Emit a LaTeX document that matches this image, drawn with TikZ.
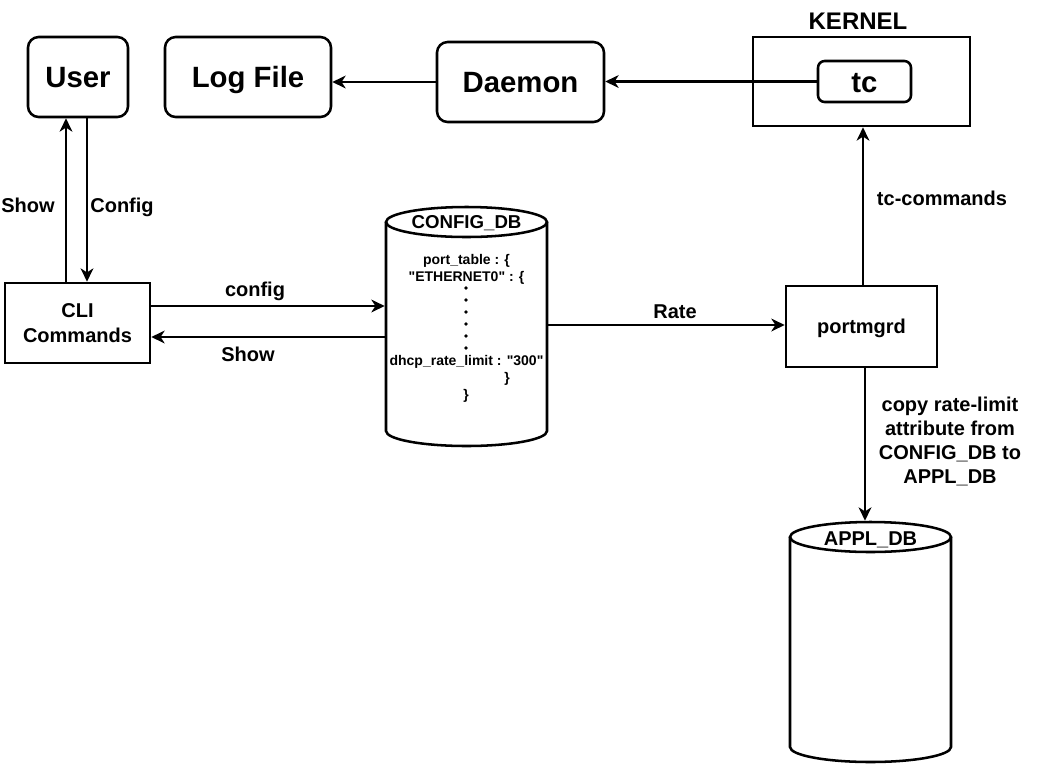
\documentclass[tikz,border=0pt]{standalone}
\usepackage{fontspec}
\setmainfont{Liberation Sans}
\newfontfamily\plainsans{Liberation Sans}
\usetikzlibrary{arrows.meta}
\begin{document}
\begin{tikzpicture}[x=0.75pt,y=-0.75pt,line width=1.9pt]
\tikzset{
  rbox/.style={draw, rounded corners=8pt, inner sep=0pt, text height=15.75pt, text depth=0pt, font=\bfseries\fontsize{22}{26}\selectfont},
  sbox/.style={draw, rectangle, inner sep=0pt, align=center, font=\bfseries\fontsize{15}{18.5}\selectfont},
  lbl/.style={inner sep=0pt, align=center, text height=10.75pt, text depth=0pt, font=\bfseries\fontsize{15}{18}\selectfont},
  mlbl/.style={inner sep=0pt, align=center, font=\bfseries\fontsize{15}{18}\selectfont},
  dbtxt/.style={inner sep=0pt, text height=7.5pt, text depth=0pt, font=\plainsans\bfseries\fontsize{10.5}{12.75}\selectfont},
  arr/.style={line width=1.8pt, -{Stealth[length=10pt,width=9.5pt,inset=3pt]}},
  ghost/.style={inner sep=0pt, minimum width=120.75pt},
}
\useasboundingbox (0,0) rectangle (1061,765);
% top row
\node[rbox, minimum width=75pt, minimum height=60pt] (user) at (78,77) {User};
\node[rbox, minimum width=124.5pt, minimum height=60pt] (log) at (248,77) {Log File};
\node[rbox, minimum width=125.25pt, minimum height=60pt] (dm) at (520.5,82) {Daemon};
\node[draw, rectangle, inner sep=0pt, minimum width=162.75pt, minimum height=66.75pt] (kern) at (861.5,81.5) {};
\node[lbl, text height=12.9pt, font=\bfseries\fontsize{18}{20}\selectfont] (kernl) at (858,21) {KERNEL};
\node[rbox, rounded corners=5pt, minimum width=69.75pt, minimum height=30.75pt] (tc) at (864.5,81.5) {tc};
% middle
\node[sbox, minimum width=108.75pt, minimum height=60pt] (cli) at (77.5,323) {CLI\\Commands};
\node[sbox, text height=10.75pt, text depth=0pt, minimum width=113.25pt, minimum height=60.75pt] (pm) at (861.5,326.5) {portmgrd};
% CONFIG_DB cylinder
\draw[fill=white] (386,222) -- (386,431) arc[start angle=180,end angle=360,x radius=60.375pt,y radius=11.25pt] -- (547,222);
\draw (466.5,222) ellipse [x radius=60.375pt, y radius=11.25pt];
\node[ghost, minimum height=179.25pt] (cfg) at (466.5,326.5) {};
\node[inner sep=0pt, text height=10pt, text depth=0pt, font=\bfseries\fontsize{14}{16}\selectfont] (cfgl) at (466.5,222) {CONFIG\_DB};
\node[dbtxt] (t1) at (466.5,259) {port\_table : \{};
\node[dbtxt] (t2) at (466.5,276) {"ETHERNET0" : \{};
\foreach \yy in {288,300,312,324,336,348} \fill (466,\yy) circle[radius=1.4pt];
\node[dbtxt] (t3) at (466.5,360) {dhcp\_rate\_limit : "300"};
\node[dbtxt] (t4) at (507,377) {\}};
\node[dbtxt] (t5) at (466,394) {\}};
% APPL_DB cylinder
\draw[fill=white] (790,537) -- (790,747) arc[start angle=180,end angle=360,x radius=60.375pt,y radius=11.25pt] -- (951,537);
\draw (870.5,537) ellipse [x radius=60.375pt, y radius=11.25pt];
\node[ghost, minimum height=180pt] (appl) at (870.5,642) {};
\node[inner sep=0pt, text height=10.75pt, text depth=0pt, font=\bfseries\fontsize{15}{17}\selectfont] (appll) at (870.5,538) {APPL\_DB};
% helper coordinates
\coordinate (xa) at (66,0);
\coordinate (xb) at (87,0);
\coordinate (xc) at (863,0);
\coordinate (xd) at (865,0);
\coordinate (ya) at (0,306);
\coordinate (yb) at (0,337);
\coordinate (yc) at (0,325);
% connectors
\draw[arr] (dm.west) -- (log.east |- dm.west);
\draw[arr] (tc.west) -- (dm.east |- tc.west);
\draw[arr] (cli.north -| xa) -- (user.south -| xa);
\draw[arr] (user.south -| xb) -- (cli.north -| xb);
\draw[arr] (cli.east |- ya) -- (cfg.west |- ya);
\draw[arr] (cfg.west |- yb) -- (cli.east |- yb);
\draw[arr] (cfg.east |- yc) -- (pm.west |- yc);
\draw[arr] (pm.north -| xc) -- (kern.south -| xc);
\draw[arr] (pm.south -| xd) -- (appl.north -| xd);
% labels
\node[lbl] (l1) at (28,205) {Show};
\node[lbl] (l2) at (122,205) {Config};
\node[lbl] (l3) at (255,289) {config};
\node[lbl] (l4) at (248,354) {Show};
\node[lbl] (l5) at (675,311) {Rate};
\node[lbl] (l6) at (942,198) {tc-commands};
\node[mlbl] (l7) at (950,441) {copy rate-limit\\attribute from\\CONFIG\_DB to\\APPL\_DB};
\end{tikzpicture}
\end{document}
